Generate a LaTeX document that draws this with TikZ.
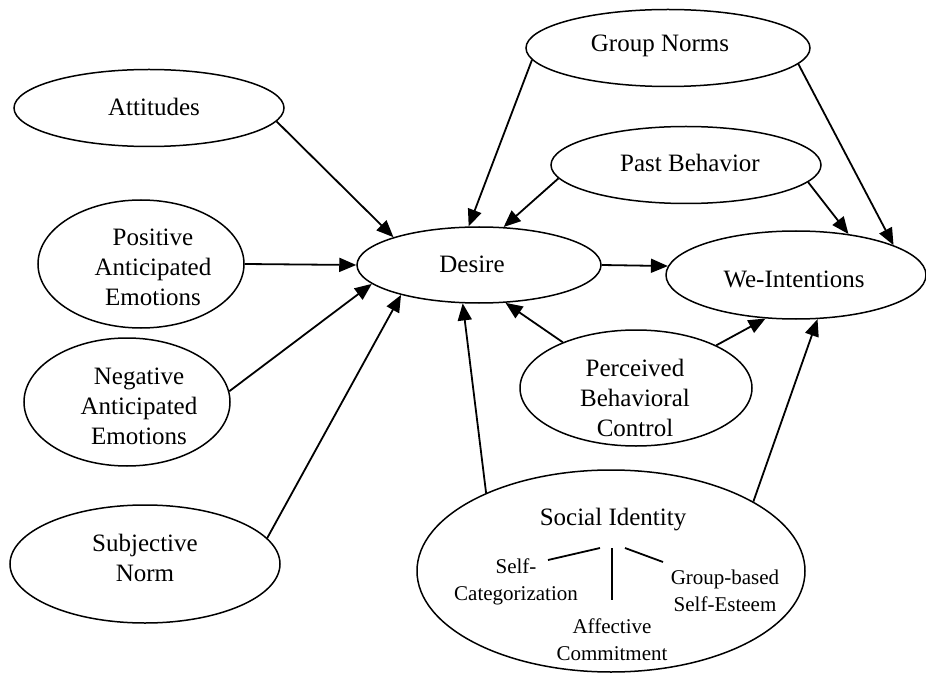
\documentclass[tikz,border=0pt]{standalone}
\usepackage{fontspec}
\setmainfont{Liberation Serif}
\usetikzlibrary{shapes.geometric,arrows.meta}
\begin{document}
\begin{tikzpicture}[x=1pt,y=-1pt,
  oval/.style={draw, ellipse, line width=1.5pt, inner sep=0pt},
  lbl/.style={align=center, font=\fontsize{25}{30}\selectfont, inner sep=0pt},
  sublbl/.style={align=center, font=\fontsize{21}{27}\selectfont, inner sep=0pt},
  link/.style={line width=1.8pt, -{Triangle[length=17pt,width=14pt]}},
  tick/.style={line width=1.8pt}]
\useasboundingbox (0,0) rectangle (926,676);

% construct ellipses
\node[oval, minimum width=270pt, minimum height=77pt]  (att) at (149,108) {};
\node[oval, minimum width=206pt, minimum height=128pt] (pos) at (141,264) {};
\node[oval, minimum width=206pt, minimum height=128pt] (neg) at (127,402) {};
\node[oval, minimum width=270pt, minimum height=118pt] (sub) at (145,564) {};
\node[oval, minimum width=244pt, minimum height=76pt]  (des) at (479,265) {};
\node[oval, minimum width=284pt, minimum height=77pt]  (gn)  at (668,48)  {};
\node[oval, minimum width=270pt, minimum height=77pt]  (pb)  at (686,165) {};
\node[oval, minimum width=260pt, minimum height=88pt]  (we)  at (796,275) {};
\node[oval, minimum width=232pt, minimum height=116pt] (pbc) at (636,388) {};
\node[oval, minimum width=388pt, minimum height=202pt] (si)  at (611,571) {};

% labels
\node[lbl] (att-t) at (154,107) {Attitudes};
\node[lbl] (pos-t) at (153,267) {Positive\\Anticipated\\Emotions};
\node[lbl] (neg-t) at (139,406) {Negative\\Anticipated\\Emotions};
\node[lbl] (sub-t) at (145,558) {Subjective\\Norm};
\node[lbl] (des-t) at (472,264) {Desire};
\node[lbl] (gn-t)  at (660,46)  {Group Norms};
\node[lbl] (pb-t)  at (690,163) {Past Behavior};
\node[lbl] (we-t)  at (794,279) {We-Intentions};
\node[lbl] (pbc-t) at (635,398) {Perceived\\Behavioral\\Control};
\node[lbl] (si-t)  at (613,520) {Social Identity};
\node[sublbl] (sc-t) at (516,582) {Self-\\Categorization};
\node[sublbl] (ac-t) at (612,640) {Affective\\Commitment};
\node[sublbl] (gb-t) at (725,591) {Group-based\\Self-Esteem};

% branches of the social identity components
\coordinate (br1a) at (548,560); \coordinate (br1b) at (600,548);
\coordinate (br2a) at (612,548); \coordinate (br2b) at (612,600);
\coordinate (br3a) at (625,548); \coordinate (br3b) at (663,562);
\draw[tick] (br1a) -- (br1b);
\draw[tick] (br2a) -- (br2b);
\draw[tick] (br3a) -- (br3b);

% paths to Desire
\draw[link] (att.-6.6) -- (des.162.2);
\draw[link] (pos.0) -- (des.180);
\draw[link] (neg.6) -- (des.190.7);
\draw[link] (sub.12.4) -- (des.201.3);
\draw[link] (gn.185.9) -- (des.105.75);
\draw[link] (pb.186.7) -- (des.57.7);
\draw[link] (pbc.148.1) -- (des.-55.6);
\draw[link] (si.148.2) -- (des.247.2);

% paths to We-Intentions
\draw[link] (des.0) -- (we.176);
\draw[link] (pb.-8.2) -- (we.38.9);
\draw[link] (gn.-7.3) -- (we.17.6);
\draw[link] (pbc.28.3) -- (we.235.4);
\draw[link] (si.26.6) -- (we.-64.9);
\end{tikzpicture}
\end{document}
